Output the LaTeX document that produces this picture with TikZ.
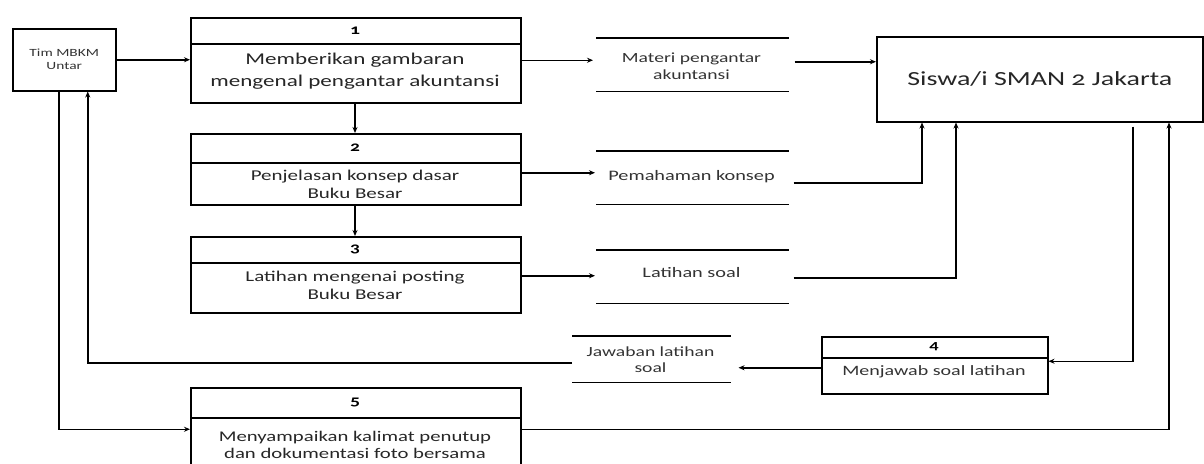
\documentclass[tikz,border=0pt]{standalone}
\usepackage{fontspec}
\setmainfont{Carlito}[FakeStretch=1.4,Numbers=OldStyle]
\usetikzlibrary{arrows.meta}
\begin{document}
\begin{tikzpicture}[x=1pt,y=-1pt,line width=1.5pt,
  >={Stealth[length=6pt,width=5pt]},
  proc/.style={draw,anchor=north west,inner sep=0pt},
  num/.style={inner sep=0pt,font=\fontsize{14}{16}\selectfont\bfseries},
  lbl/.style={inner sep=0pt,align=center,text=black!85,font=\fontsize{15}{18}\selectfont},
  big/.style={inner sep=0pt,align=center,text=black!85,font=\fontsize{16.5}{22}\selectfont},
  small/.style={inner sep=0pt,align=center,text=black!80,font=\fontsize{14}{17}\selectfont},
  store/.style={anchor=north west,inner sep=0pt},
  flow/.style={->,line width=1.5pt},
  sline/.style={line width=1.5pt}]
\useasboundingbox (0,0) rectangle (1204,463);

% external entities
\node[proc,minimum width=103pt,minimum height=62pt,align=center,text=black!80,
  font=\fontsize{11}{13}\selectfont] (tim) at (12,28) {Tim MBKM\\Untar};
\node[proc,minimum width=326pt,minimum height=85pt,text=black!85,
  font=\fontsize{20}{24}\selectfont] (sis) at (876,36) {Siswa/i SMAN 2 Jakarta};

% processes
\node[proc,minimum width=330pt,minimum height=85pt] (p1) at (190,17) {};
\draw (190,44) -- (520,44);
\node[num] (n1) at (355,30.5) {1};
\node[big] (t1) at (355,71.5) {Memberikan gambaran\\mengenal pengantar akuntansi};

\node[proc,minimum width=330pt,minimum height=71pt] (p2) at (190,133) {};
\draw (190,163) -- (520,163);
\node[num] (n2) at (355,148) {2};
\node[lbl] (t2) at (355,184.5) {Penjelasan konsep dasar\\Buku Besar};

\node[proc,minimum width=330pt,minimum height=76pt] (p3) at (190,236) {};
\draw (190,263) -- (520,263);
\node[num] (n3) at (355,249.5) {3};
\node[lbl] (t3) at (355,285.5) {Latihan mengenai posting\\Buku Besar};

\node[proc,minimum width=226pt,minimum height=57pt] (p4) at (821,336) {};
\draw (821,358) -- (1047,358);
\node[num,font=\fontsize{13}{15}\selectfont\bfseries] (n4) at (934,347) {4};
\node[small,font=\fontsize{14.3}{16}\selectfont] (t4) at (934,372) {Menjawab soal latihan};

\node[proc,minimum width=330pt,minimum height=83pt] (p5) at (190,387) {};
\draw (190,418) -- (520,418);
\node[num] (n5) at (355,402.5) {5};
\node[lbl,font=\fontsize{14.8}{16.5}\selectfont] (t5) at (355,445) {Menyampaikan kalimat penutup\\dan dokumentasi foto bersama};

% data stores
\node[store,minimum width=191pt,minimum height=52pt] (s1) at (596,38) {};
\draw[sline] (s1.north west) -- (s1.north east) (s1.south west) -- (s1.south east);
\node[small] (l1) at (691.5,66.5) {Materi pengantar\\akuntansi};

\node[store,minimum width=191pt,minimum height=52pt] (s2) at (596,151) {};
\draw[sline] (s2.north west) -- (s2.north east) (s2.south west) -- (s2.south east);
\node[small,font=\fontsize{14.5}{17}\selectfont] (l2) at (691.5,177) {Pemahaman konsep};

\node[store,minimum width=191pt,minimum height=52pt] (s3) at (596,250) {};
\draw[sline] (s3.north west) -- (s3.north east) (s3.south west) -- (s3.south east);
\node[small,font=\fontsize{14.5}{17}\selectfont] (l3) at (691.5,273) {Latihan soal};

\node[store,minimum width=157pt,minimum height=45pt] (s4) at (572,336) {};
\draw[sline] (s4.north west) -- (s4.north east) (s4.south west) -- (s4.south east);
\node[small,font=\fontsize{14}{16}\selectfont] (l4) at (650.5,360) {Jawaban latihan\\soal};

% flows
\draw[flow] (tim.east) -- (tim.east -| p1.west);
\draw[flow] (p1.south -| n1) -- (p2.north -| n1);
\draw[flow] (p2.south -| n2) -- (p3.north -| n2);
\draw[flow,shorten >=3pt] (p1.east) -- (p1.east -| s1.west);
\draw[flow,shorten >=1pt] ([yshift=-3.5pt]p2.east) -- ([yshift=-3.5pt]p2.east -| s2.west);
\draw[flow,shorten >=1pt] ([yshift=-1pt]p3.east) -- ([yshift=-1pt]p3.east -| s3.west);
\draw[flow] ([xshift=6pt,yshift=3pt]s1.east) -- ([yshift=3pt]s1.east -| sis.west);
\draw[flow] ([xshift=5pt,yshift=-5pt]s2.east) -| ([xshift=46pt]sis.south west);
\draw[flow] ([xshift=5pt,yshift=-1pt]s3.east) -| ([xshift=80pt]sis.south west);
\draw[flow] ([xshift=257pt,yshift=-4pt]sis.south west) |- ([yshift=4pt]p4.east);
\draw[flow,shorten >=8pt] ([yshift=-2.5pt]p4.west) -- ([yshift=-2.5pt]p4.west -| s4.east);
\draw[flow] ([yshift=-3.5pt]s4.west) -| ([xshift=23.5pt]tim.south);
\draw[flow] ([xshift=-5.5pt]tim.south) |- (p5.west);
\draw[flow] (p5.east) -| ([xshift=293pt]sis.south west);
\end{tikzpicture}
\end{document}
